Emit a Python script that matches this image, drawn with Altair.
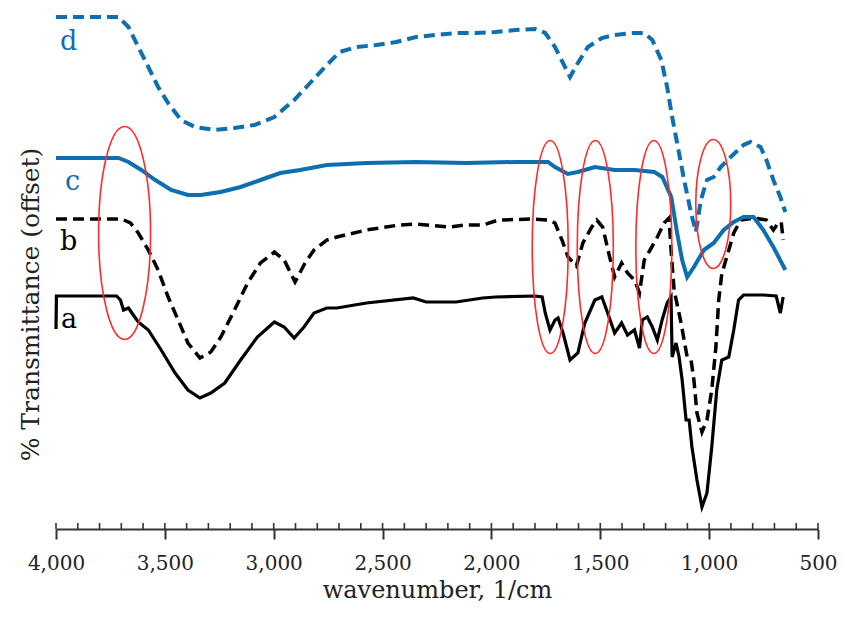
import altair as alt
import pandas as pd

# ---- data (wavenumber in 1/cm, transmittance in arbitrary offset units) ----
d_wn = [4000, 3713, 3667, 3622, 3576, 3531, 3485, 3426, 3362, 3271, 3180, 3089, 2997, 2906, 2833, 2756,
        2697, 2619, 2528, 2437, 2346, 2255, 2163, 2072, 1981, 1890, 1799, 1753, 1708, 1662, 1639, 1603,
        1557, 1493, 1434, 1357, 1298, 1261, 1220, 1193, 1170, 1147, 1115, 1083, 1061, 1038, 1010, 979,
        947, 901, 842, 810, 764, 737, 705, 673, 650]
d_val = [512, 512, 502, 482, 462, 442, 426, 409, 402, 399, 401, 404, 412, 429, 446, 464,
         477, 482, 484, 487, 492, 494, 496, 496, 497, 499, 500, 496, 482, 462, 452, 466,
         482, 491, 494, 496, 496, 489, 469, 442, 412, 386, 349, 316, 297, 329, 349, 352,
         362, 372, 384, 387, 382, 369, 349, 332, 317]

c_wn = [4000, 3713, 3667, 3608, 3544, 3471, 3394, 3335, 3244, 3152, 3061, 2970, 2879, 2756, 2574, 2346,
        2118, 1890, 1740, 1708, 1649, 1603, 1525, 1434, 1343, 1252, 1215, 1174, 1147, 1124, 1101, 1070,
        1024, 979, 933, 887, 842, 796, 751, 705, 650]
c_val = [371, 371, 367, 359, 349, 339, 334, 334, 337, 342, 349, 356, 359, 364, 366, 367,
         366, 367, 367, 362, 355, 357, 362, 359, 359, 357, 352, 332, 296, 269, 252, 262,
         279, 286, 299, 307, 312, 312, 299, 282, 259]

b_wn = [4000, 3699, 3658, 3622, 3576, 3531, 3485, 3439, 3394, 3339, 3289, 3243, 3180, 3120, 3061, 2997,
        2952, 2902, 2856, 2815, 2756, 2710, 2574, 2423, 2346, 2195, 2118, 2040, 1967, 1812, 1740, 1708,
        1676, 1648, 1610, 1580, 1539, 1516, 1489, 1457, 1434, 1402, 1375, 1343, 1320, 1298, 1266, 1238,
        1207, 1184, 1175, 1161, 1129, 1101, 1083, 1070, 1056, 1033, 1010, 988, 969, 956, 942, 919,
        887, 855, 796, 737, 705, 682, 669, 660]
b_val = [310, 310, 306, 296, 279, 259, 232, 209, 186, 171, 177, 192, 219, 246, 266, 277,
         269, 247, 266, 279, 289, 292, 299, 304, 305, 302, 304, 304, 309, 310, 309, 306,
         289, 272, 263, 286, 302, 309, 302, 272, 252, 266, 256, 249, 236, 269, 281, 292,
         306, 311, 279, 239, 206, 172, 169, 149, 116, 97, 109, 139, 182, 229, 255, 272,
         296, 309, 311, 309, 299, 306, 307, 289]

a_wn = [4000, 3998, 3722, 3704, 3690, 3667, 3645, 3622, 3576, 3517, 3453, 3394, 3339, 3289, 3225, 3152,
        3075, 2997, 2952, 2906, 2861, 2815, 2756, 2710, 2574, 2359, 2300, 2163, 2040, 1981, 1799, 1767,
        1753, 1731, 1708, 1694, 1671, 1639, 1603, 1571, 1525, 1493, 1466, 1434, 1402, 1375, 1343, 1320,
        1307, 1284, 1261, 1238, 1216, 1193, 1175, 1170, 1152, 1138, 1124, 1106, 1092, 1079, 1056, 1033,
        1010, 988, 965, 942, 910, 887, 865, 842, 751, 692, 673, 660]
a_val = [200, 233, 233, 229, 219, 221, 214, 207, 199, 179, 156, 139, 131, 136, 146, 169,
         192, 207, 202, 191, 202, 216, 221, 221, 226, 231, 227, 227, 231, 232, 233, 232,
         216, 199, 209, 211, 196, 169, 176, 206, 229, 232, 216, 196, 206, 194, 199, 181,
         209, 212, 202, 189, 209, 226, 232, 172, 186, 172, 149, 109, 109, 82, 49, 22,
         36, 82, 139, 169, 172, 199, 229, 234, 234, 233, 216, 232]

label_text = ["a", "b", "c", "d"]
label_wn = [3977, 3982, 3959, 3982]
label_val = [201, 279, 339, 479]

ell_id = ["e1", "e2", "e3", "e4", "e5"]
ell_wn = [3685, 1730, 1523, 1254, 981]
ell_val = [296, 282, 282, 282, 325]

tick_labels = [4000, 3500, 3000, 2500, 2000, 1500, 1000, 500]
minor_ticks = list(range(4000, 499, -100))

# ---- styles ----
BLUE = "#0d6eb0"
BLACK = "#000000"
RED = "#ff2a2a"
FONT = "DejaVu Serif"
W, H = 762, 519

def ellipse_path(rx):
    k = 0.5523
    return (f"M0,-1 C{k*rx:.4f},-1 {rx:.4f},{-k:.4f} {rx:.4f},0 "
            f"C{rx:.4f},{k:.4f} {k*rx:.4f},1 0,1 "
            f"C{-k*rx:.4f},1 {-rx:.4f},{k:.4f} {-rx:.4f},0 "
            f"C{-rx:.4f},{-k:.4f} {-k*rx:.4f},-1 0,-1 Z")

ell_style = {  # (half-width relative to half-height, full height px)
    "e1": (0.244, 213),
    "e2": (0.169, 213),
    "e3": (0.169, 213),
    "e4": (0.169, 213),
    "e5": (0.271, 129),
}

xscale = alt.Scale(domain=[4000, 500], nice=False, zero=False)
yscale = alt.Scale(domain=[0, 519], nice=False, zero=False)

xaxis = alt.Axis(values=tick_labels, format=",d", title="wavenumber, 1/cm",
                 labelFont=FONT, labelFontSize=20, labelColor="#222", labelPadding=30,
                 labelBaseline="alphabetic", labelFlush=False, labelOverlap=False,
                 titleFont=FONT, titleFontSize=24, titleFontWeight="normal", titleColor="#222",
                 titleBaseline="alphabetic", titleY=68,
                 domainColor="#333", domainWidth=2, tickColor="#333", tickWidth=2, tickSize=10,
                 grid=False)
yaxis = alt.Axis(title="% Transmittance (offset)", titleFont=FONT, titleFontSize=25,
                 titleFontWeight="normal", titleColor="#222", titleAngle=-90,
                 titleX=-26, titleY=294, titleAlign="center", titleBaseline="middle",
                 domain=False, ticks=False, labels=False, grid=False)

def series(wn, val, color, dash, width):
    df = pd.DataFrame({"wn": wn, "val": val})
    kw = dict(color=color, strokeWidth=width, clip=False)
    if dash:
        kw["strokeDash"] = dash
    return alt.Chart(df).mark_line(**kw).encode(
        x=alt.X("wn:Q", scale=xscale, axis=xaxis),
        y=alt.Y("val:Q", scale=yscale, axis=yaxis),
    )

line_a = series(a_wn, a_val, BLACK, None, 3.2)
line_b = series(b_wn, b_val, BLACK, [11, 6], 3.5)
line_c = series(c_wn, c_val, BLUE, None, 4)
line_d = series(d_wn, d_val, BLUE, [11, 6], 4)

ticks_df = pd.DataFrame({"wn": minor_ticks})
minor = alt.Chart(ticks_df).mark_rule(color="#333", strokeWidth=1.6).encode(
    x=alt.X("wn:Q", scale=xscale, axis=xaxis),
    y=alt.Y(datum=0, scale=yscale, axis=yaxis),
    y2=alt.datum(6),
)

ell_df = pd.DataFrame({"id": ell_id, "wn": ell_wn, "val": ell_val})
ell_df["sz"] = [ell_style[i][1] ** 2 for i in ell_id]
ellipses = alt.Chart(ell_df).mark_point(filled=False, stroke=RED, strokeWidth=1.6, opacity=1).encode(
    x=alt.X("wn:Q", scale=xscale, axis=xaxis),
    y=alt.Y("val:Q", scale=yscale, axis=yaxis),
    shape=alt.Shape("id:N", scale=alt.Scale(domain=ell_id,
                                             range=[ellipse_path(ell_style[i][0]) for i in ell_id]),
                    legend=None),
    size=alt.Size("sz:Q", scale=None),
)

lab_df = pd.DataFrame({"t": label_text, "wn": label_wn, "val": label_val})
labels = alt.Chart(lab_df).mark_text(font=FONT, fontSize=27, align="left", baseline="alphabetic").encode(
    x=alt.X("wn:Q", scale=xscale, axis=xaxis),
    y=alt.Y("val:Q", scale=yscale, axis=yaxis),
    text="t:N",
    color=alt.Color("t:N", scale=alt.Scale(domain=label_text, range=[BLACK, BLACK, BLUE, BLUE]),
                    legend=None),
)

chart = alt.layer(minor, line_a, line_b, line_c, line_d, ellipses, labels).properties(
    width=W, height=H,
    autosize=alt.AutoSizeParams(type="none"),
    padding={"left": 48, "top": 2, "right": 19, "bottom": 76},
    background="white",
).configure_view(stroke=None)

chart.save("out.html", embed_options={"renderer": "svg", "actions": False})
